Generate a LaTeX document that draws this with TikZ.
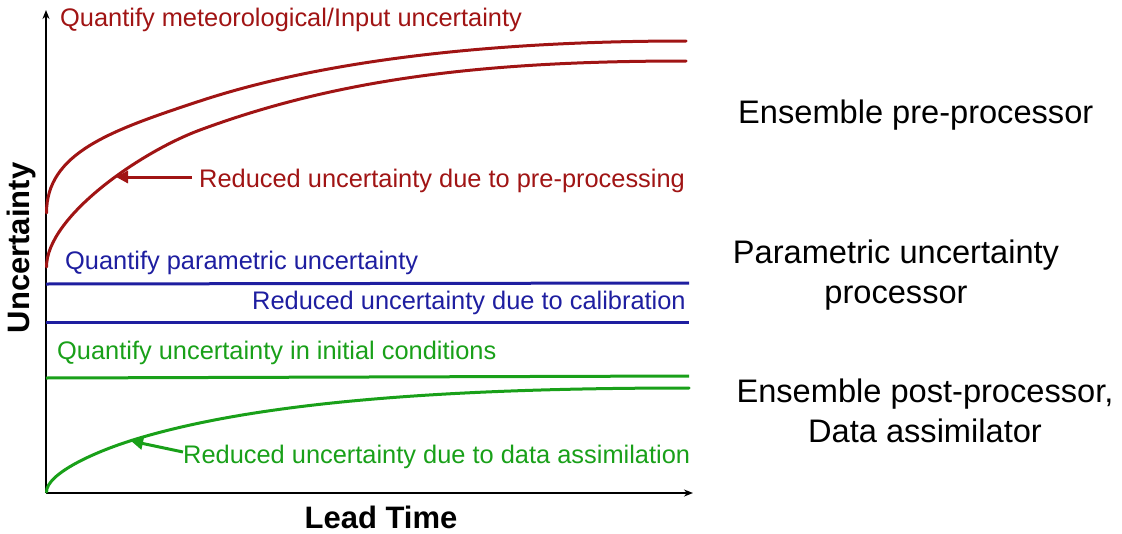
\documentclass[tikz,border=0pt]{standalone}
\usepackage{fontspec}
\setmainfont{Liberation Sans}
\usetikzlibrary{arrows.meta}
\definecolor{cred}{RGB}{160,20,20}
\definecolor{cblue}{RGB}{30,30,160}
\definecolor{cgreen}{RGB}{25,160,25}
\tikzset{
  lbl/.style={inner sep=0pt, anchor=west, font=\fontsize{25.4}{30}\selectfont},
  side/.style={inner sep=0pt, align=center, font=\fontsize{32.6}{40}\selectfont},
  axlbl/.style={inner sep=0pt, font=\fontsize{31}{36}\selectfont\bfseries},
  curve/.style={line width=3pt, line cap=round},
  axis/.style={line width=2pt, -{Stealth[length=9pt,width=7pt]}},
  pointer/.style={line width=3pt, -{Triangle[length=12pt,width=12pt]}}
}
\begin{document}
\begin{tikzpicture}[x=1pt,y=-1pt]
\useasboundingbox (0,0) rectangle (1122,533);
% axes
\coordinate (O) at (46,493);
\coordinate (Ytop) at (46,10);
\coordinate (Xend) at (693,493);
\draw[axis] (O) -- (Ytop);
\draw[axis] (O) -- (Xend);
\node[axlbl, rotate=90] (ylab) at (21,248) {Uncertainty};
\node[axlbl] (xlab) at (381,517) {Lead Time};
% red curves
\draw[curve, cred] (46.5,213) .. controls (46.5,153) and (110,130.7) .. (200,101)
  .. controls (320,61.4) and (486,41) .. (686,41);
\draw[curve, cred] (46.5,267) .. controls (46.5,217) and (140,152.2) .. (200,130)
  .. controls (340,78.2) and (486,61) .. (686,61);
\coordinate (redtip) at (116,177);
\node[lbl, text=cred] (redq) at (60,20) {Quantify meteorological/Input uncertainty};
\node[lbl, text=cred] (redr) at (199,181) {Reduced uncertainty due to pre-processing};
\draw[pointer, cred] (redr.west) ++(-7,-4) coordinate (redtail) (redtail) -- (redtip);
% blue lines
\draw[curve, cblue, line cap=butt] (46,284) -- (689,283);
\draw[curve, cblue, line cap=butt] (46,322) -- (689,322);
\node[lbl, text=cblue] (blueq) at (65,263) {Quantify parametric uncertainty};
\node[lbl, text=cblue] (bluer) at (252,303) {Reduced uncertainty due to calibration};
% green curves
\draw[curve, cgreen, line cap=butt] (46,378) -- (689,376);
\draw[curve, cgreen] (46.5,492) .. controls (46.5,474) and (93,452.4) .. (133,440)
  .. controls (253,402.8) and (439,388) .. (689,388);
\coordinate (greentip) at (131,441);
\node[lbl, text=cgreen] (greenq) at (57,353) {Quantify uncertainty in initial conditions};
\node[lbl, text=cgreen] (greenr) at (183,457) {Reduced uncertainty due to data assimilation};
\draw[pointer, cgreen] (greenr.west) ++(0,-5) coordinate (greentail) (greentail) -- (greentip);
% side labels
\node[side, anchor=west] (s1) at (738,115) {Ensemble pre-processor};
\node[side] (s2) at (896,275) {Parametric uncertainty\\processor};
\node[side] (s3) at (925,411) {Ensemble post-processor,\\Data assimilator};
\end{tikzpicture}
\end{document}
